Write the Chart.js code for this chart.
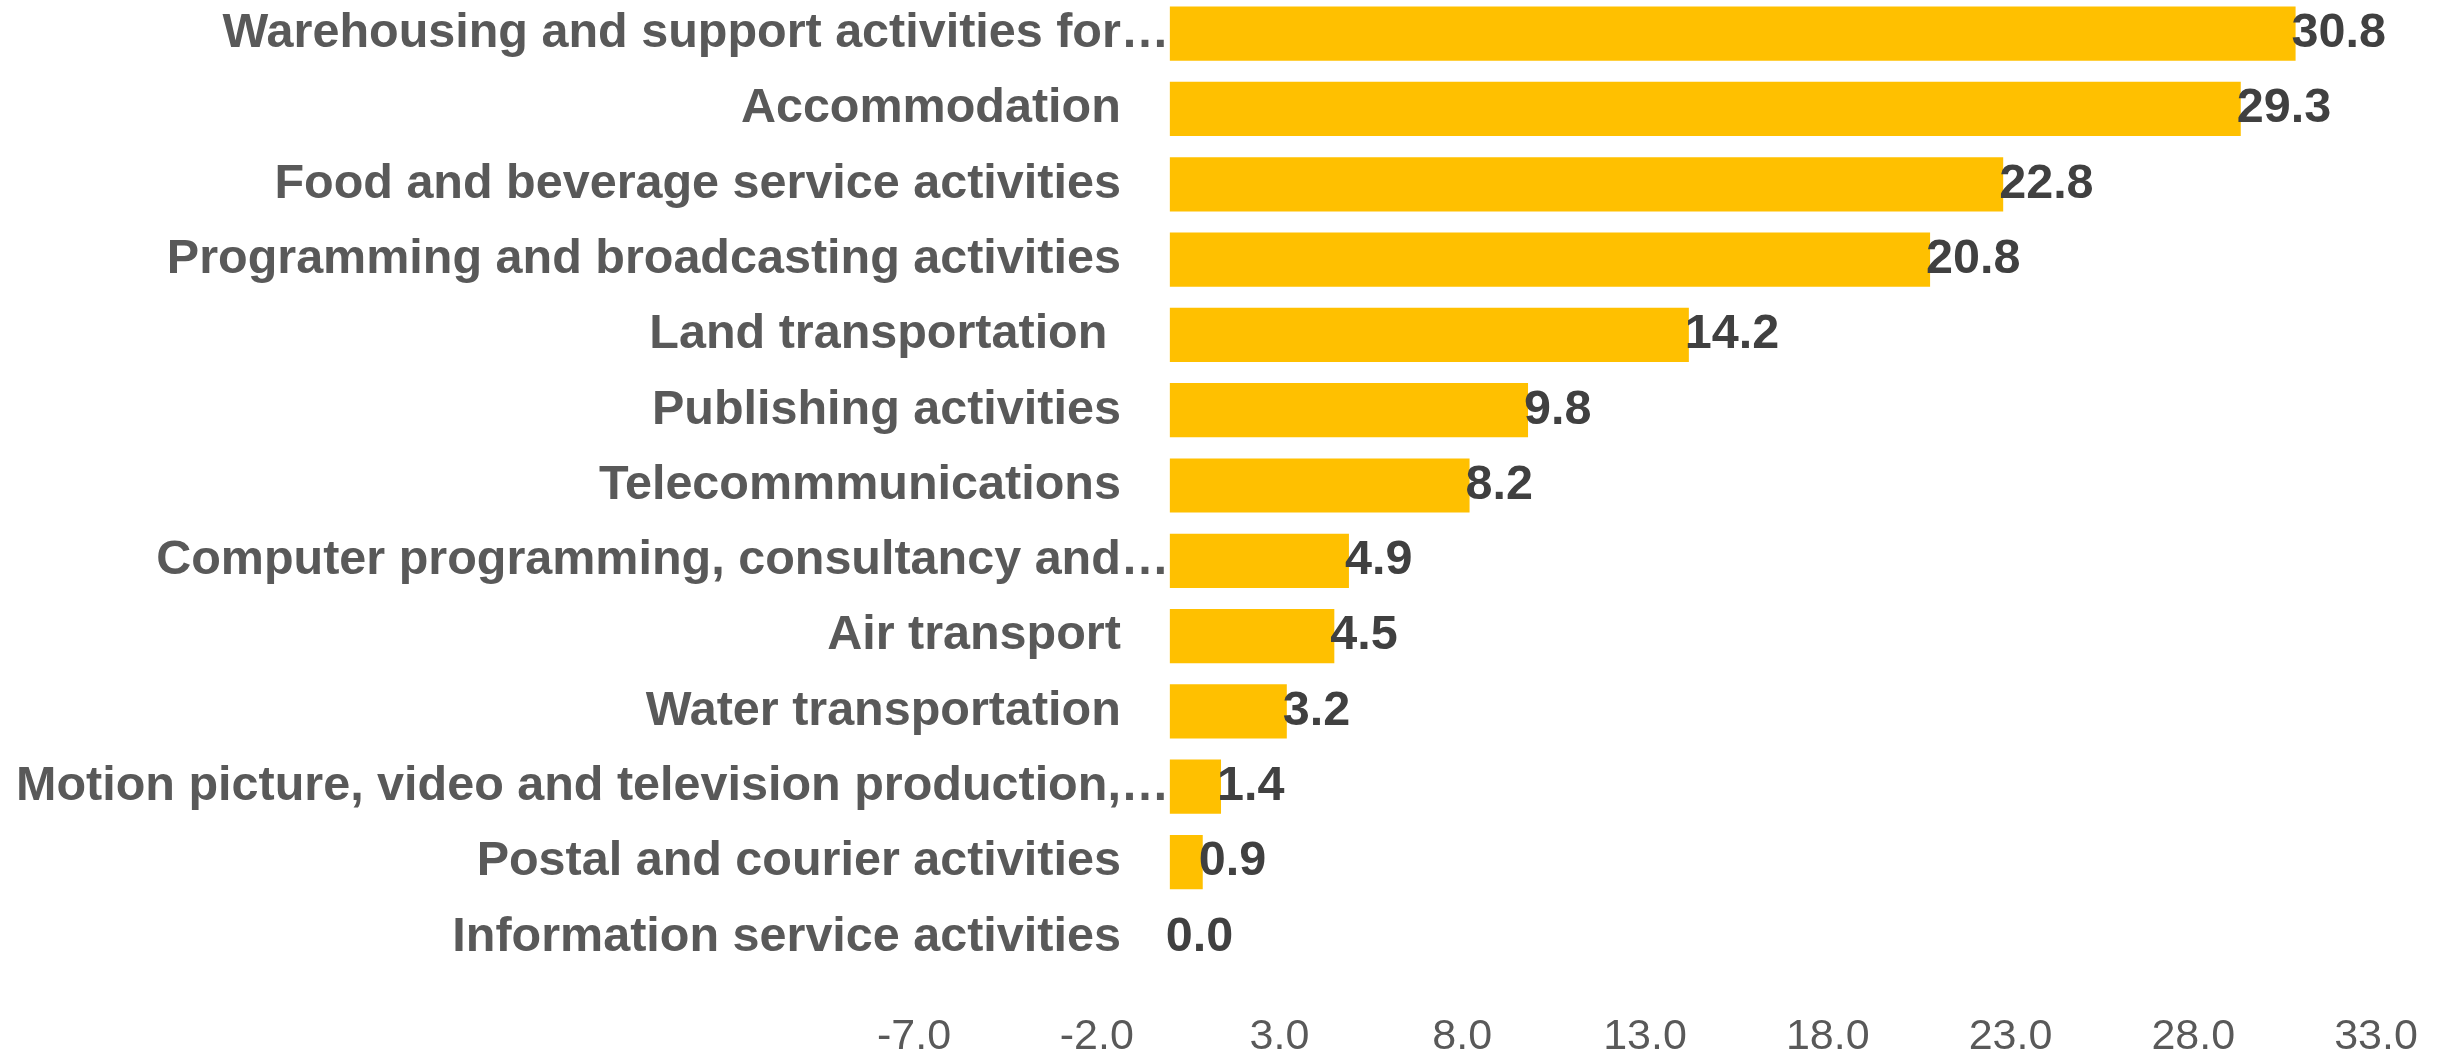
<!DOCTYPE html>
<html>
<head>
<meta charset="utf-8">
<script src="https://cdn.jsdelivr.net/npm/chart.js@4.4.1/dist/chart.umd.min.js"></script>
<style>
  html, body { margin: 0; padding: 0; background: #fff; overflow: hidden; }
  #chart { display: block; margin-top: -4px; }
</style>
</head>
<body>
<canvas id="chart" width="2443" height="1060"></canvas>
<script>
const categories = [
    'Warehousing and support activities for\u2026',
    'Accommodation',
    'Food and beverage service activities',
    'Programming and broadcasting activities',
    'Land transportation ',
    'Publishing activities',
    'Telecommmunications',
    'Computer programming, consultancy and\u2026',
    'Air transport',
    'Water transportation',
    'Motion picture, video and television production,\u2026',
    'Postal and courier activities',
    'Information service activities'
];
const values = [30.8, 29.3, 22.8, 20.8, 14.2, 9.8, 8.2, 4.9, 4.5, 3.2, 1.4, 0.9, 0.0];
const xTickValues = [-7, -2, 3, 8, 13, 18, 23, 28, 33];

const BAR = '#FFC000';
const LABEL_FONT = 'bold 48.5px "Liberation Sans", Arial, sans-serif';

// category names drawn next to the zero line; "…" hangs past the right edge like Excel
const categoryLabels = {
    id: 'categoryLabels',
    afterDraw(chart) {
        const ctx = chart.ctx;
        const x0 = chart.scales.x.getPixelForValue(0) - 49;
        const y = chart.scales.y;
        ctx.save();
        ctx.font = LABEL_FONT;
        ctx.fillStyle = '#595959';
        ctx.textAlign = 'right';
        ctx.textBaseline = 'middle';
        const hang = ctx.measureText('\u2026').width;
        categories.forEach((c, i) => {
            const xr = c.endsWith('\u2026') ? x0 + hang : x0;
            ctx.fillText(c, xr, y.getPixelForValue(i));
        });
        ctx.restore();
    }
};

// value labels at the bar ends
const valueLabels = {
    id: 'valueLabels',
    afterDatasetsDraw(chart) {
        const ctx = chart.ctx;
        const meta = chart.getDatasetMeta(0);
        ctx.save();
        ctx.font = LABEL_FONT;
        ctx.fillStyle = '#404040';
        ctx.textAlign = 'left';
        ctx.textBaseline = 'middle';
        meta.data.forEach((bar, i) => {
            ctx.fillText(values[i].toFixed(1), bar.x - 4, bar.y);
        });
        ctx.restore();
    }
};

new Chart(document.getElementById('chart').getContext('2d'), {
    type: 'bar',
    data: {
        labels: categories,
        datasets: [{
            data: values,
            backgroundColor: BAR,
            borderWidth: 0,
            barPercentage: 0.72,
            categoryPercentage: 1.0
        }]
    },
    options: {
        indexAxis: 'y',
        responsive: false,
        animation: false,
        layout: { autoPadding: false, padding: { left: 914, right: 67, top: 0, bottom: 0 } },
        scales: {
            x: {
                min: xTickValues[0],
                max: xTickValues[xTickValues.length - 1],
                afterBuildTicks: (s) => { s.ticks = xTickValues.map(v => ({ value: v })); },
                afterFit: (s) => {
                    s.height = 81;
                    s.paddingLeft = 0;
                    s.paddingRight = 0;
                },
                grid: { display: false, drawTicks: false },
                border: { display: false },
                ticks: {
                    padding: 36,
                    color: '#595959',
                    font: { family: '"Liberation Sans", Arial, sans-serif', size: 43 },
                    callback: (v) => Number(v).toFixed(1)
                }
            },
            y: {
                display: false
            }
        },
        plugins: {
            legend: { display: false },
            tooltip: { enabled: false }
        }
    },
    plugins: [categoryLabels, valueLabels]
});
</script>
</body>
</html>
